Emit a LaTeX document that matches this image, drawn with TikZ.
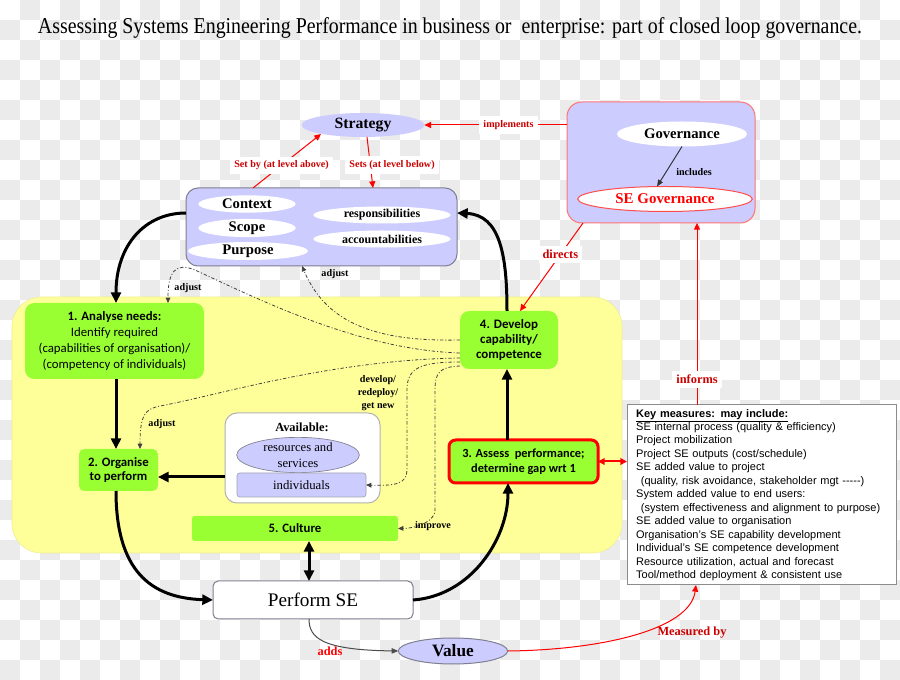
\documentclass[tikz,border=0pt]{standalone}
\usepackage{graphicx}
\usepackage{fontspec}
\setmainfont{Liberation Serif}
\newfontfamily\calib{Carlito}
\newfontfamily\arial{Liberation Sans}
\usetikzlibrary{shapes.geometric,arrows.meta,calc}
\definecolor{lav}{HTML}{CCCCFF}
\definecolor{grn}{HTML}{99FF33}
\definecolor{yel}{HTML}{FFFF99}
\definecolor{chk}{HTML}{EBEBEB}
\definecolor{lblred}{HTML}{CC0000}
\definecolor{bord}{HTML}{7F7F8F}
\newcommand\fsz[2]{\fontsize{#1pt}{#2pt}\selectfont}
\begin{document}
\begin{tikzpicture}[x=0.75pt,y=-0.75pt,
  boxnode/.style={rectangle, inner sep=0pt, outer sep=0pt},
  greenbox/.style={boxnode, fill=grn, rounded corners=6pt, align=center, font=\calib\bfseries\fsz{9.6}{11}},
  ell/.style={ellipse, inner sep=0pt, outer sep=0pt},
  thickarrow/.style={line width=2.25pt, -{Triangle[length=8pt,width=7.5pt]}},
  thinarrow/.style={draw=black!80, line width=0.75pt, -{Triangle[length=5pt,width=4pt]}},
  redthin/.style={draw=red, line width=0.75pt, -{Triangle[length=5pt,width=4.5pt]}},
  dd/.style={draw=black!75, line width=0.6pt, dash pattern=on 2.5pt off 1.5pt on 0.75pt off 1.5pt, -{Triangle[length=4pt,width=3.5pt]}},
  lbl/.style={font=\bfseries\fsz{7.6}{9}, inner sep=1pt},
  redlbl/.style={lbl, text=lblred, fill=white, inner sep=3pt},
  redlblb/.style={font=\bfseries\fsz{9.3}{11}, text=lblred, inner sep=3pt}
]
\useasboundingbox (0,0) rectangle (900,680);
% background checkerboard
\fill[white] (0,0) rectangle (900,680);
\foreach \i in {0,...,44}{\foreach \j in {0,...,33}{\ifodd\numexpr\i+\j\relax \fill[chk] (\i*20,\j*20) rectangle ++(20,20);\fi}}

% title
\node (title) at (450,28) {\resizebox{618pt}{\height}{\fsz{17}{20}Assessing Systems Engineering Performance in business or\ \ enterprise: part of closed loop governance.}};

% yellow region
\node[boxnode, minimum width=457.5pt, minimum height=192pt, fill=yel, draw=yel!85!gray, rounded corners=22pt] (yellow) at (317,425) {};

% strategy
\node[ell, fill=lav, minimum width=92pt, minimum height=18pt] (strategy) at (363,125) {\bfseries\fsz{11.8}{14}Strategy};

% governance box
\node[boxnode, minimum width=141pt, minimum height=90.75pt, fill=lav, draw=red!55, line width=0.75pt, rounded corners=11pt] (gov) at (661,162.5) {};
\node[ell, fill=white, minimum width=97.5pt, minimum height=18.75pt] (governance) at (682,134) {\bfseries\fsz{11}{13}Governance};
\node[ell, fill=white, draw=red!70, line width=0.75pt, minimum width=131pt, minimum height=18.75pt] (segov) at (665,199) {\bfseries\fsz{11.2}{13}\color{red}SE Governance};

% context box
\node[boxnode, minimum width=203.25pt, minimum height=58.5pt, fill=lav, draw=bord, line width=0.75pt, rounded corners=9pt] (ctx) at (321.5,227) {};
\node[ell, fill=white, minimum width=73pt, minimum height=13pt] (context) at (247,204) {\bfseries\fsz{11}{13}Context};
\node[ell, fill=white, minimum width=73pt, minimum height=13pt] (scope) at (247,228) {\bfseries\fsz{11}{13}Scope};
\node[ell, fill=white, minimum width=90pt, minimum height=13.5pt] (purpose) at (248,251) {\bfseries\fsz{11}{13}Purpose};
\node[ell, fill=white, minimum width=103pt, minimum height=12.75pt] (resp) at (382,215) {\bfseries\fsz{9}{11}responsibilities};
\node[ell, fill=white, minimum width=103pt, minimum height=12.75pt] (acc) at (382,239) {\bfseries\fsz{9}{11}accountabilities};

% process boxes
\node[greenbox, minimum width=134.25pt, minimum height=57pt, rounded corners=7pt, font=\calib\bfseries\fsz{9.6}{11.8}] (box1) at (114.5,341) {\textbf{1. Analyse needs:}\\\mdseries Identify required\\\mdseries (capabilities of organisation)/\\\mdseries (competency of individuals)};
\node[greenbox, minimum width=59.25pt, minimum height=31.5pt, rounded corners=4pt] (box2) at (118.5,470) {2. Organise\\to perform};
\node[greenbox, minimum width=111.75pt, minimum height=32.25pt, draw=red, line width=2.25pt, rounded corners=5pt, font=\calib\bfseries\fsz{9.3}{11.5}] (box3) at (523.5,461.5) {3. Assess\ \ performance;\\determine gap wrt 1};
\node[greenbox, minimum width=73.5pt, minimum height=43.5pt, rounded corners=7pt, font=\calib\bfseries\fsz{9.7}{11}] (box4) at (509,340) {4. Develop\\capability/\\competence};
\node[greenbox, minimum width=154.5pt, minimum height=18.75pt, rounded corners=2pt] (culture) at (295,528.5) {5. Culture};

% available
\node[boxnode, minimum width=116.25pt, minimum height=67.5pt, fill=white, draw=black!30, line width=0.75pt, rounded corners=9pt] (avail) at (302.5,458) {};
\node[font=\bfseries\fsz{9.3}{11}, inner sep=0pt] (availlbl) at (302,427) {Available:};
\node[ell, fill=lav, draw=bord, line width=0.5pt, minimum width=92pt, minimum height=23pt, align=center, font=\fsz{9.5}{12}] (res) at (298,455) {resources and\\services};
\node[boxnode, minimum width=96.75pt, minimum height=18pt, fill=lav, draw=bord!70, line width=0.5pt, rounded corners=2pt, font=\fsz{9.6}{11}] (ind) at (301.5,485) {individuals};

% perform and value
\node[boxnode, minimum width=150pt, minimum height=28.5pt, fill=white, draw=bord, line width=0.75pt, rounded corners=4pt, font=\fsz{14.4}{16}] (perform) at (313,600) {Perform SE};
\node[ell, fill=lav, draw=bord, line width=0.75pt, minimum width=82pt, minimum height=19.5pt] (value) at (453,651) {\bfseries\fsz{13}{15}Value};

% key measures
\node[boxnode, minimum width=201.75pt, minimum height=135pt, fill=white, draw=black!45, line width=0.75pt, text width=188pt, align=left, font=\arial\fsz{8.25}{10.1}] (key) at (761.5,495) {\underline{\textbf{Key measures: may include:}}\\
SE internal process (quality \& efficiency)\\
Project mobilization\\
Project SE outputs (cost/schedule)\\
SE added value to project\\
\hspace*{3.5pt}(quality, risk avoidance, stakeholder mgt -----)\\
System added value to end users:\\
\hspace*{3.5pt}(system effectiveness and alignment to purpose)\\
SE added value to organisation\\
Organisation’s SE capability development\\
Individual’s SE competence development\\
Resource utilization, actual and forecast\\
Tool/method deployment \& consistent use};

% red connectors
\draw[redthin] ($(gov.north west)+(0,23)$) -- (strategy.east) node[redlbl, pos=.41] (implbl) {implements};
\draw[redthin] ($(ctx.north west)+(67,0)$) -- ($(strategy.center)+(-42,9)$) node[redlbl, pos=.42] (setbylbl) {Set by (at level above)};
\draw[redthin] ($(strategy.center)+(4,12)$) -- ($(ctx.north west)+(187,0)$);
\node[redlbl] (setslbl) at (392,165) {Sets (at level below)};
\draw[thinarrow] (governance.south) -- ($(segov.north)+(-8,0)$);
\node[lbl] (inclbl) at (694,172) {includes};
\draw[redthin] ($(gov.south west)+(16,0)$) -- ($(box4.north)+(11,0)$) node[redlblb, fill=white, pos=.36] (dirlbl) {directs};
\draw[redthin] ($(key.north west)+(70,0)$) -- ($(gov.south west)+(130,0)$) node[redlblb, fill=white, pos=.14] (inflbl) {informs};
\draw[red, line width=1.5pt, {Triangle[length=5pt,width=5pt]}-{Triangle[length=5pt,width=5pt]}] (box3.east) -- (box3.east -| key.west);
\draw[redthin] (value.east) .. controls (600,650) and (690,630) .. ($(key.south west)+(69,0)$);
\node[redlblb] (measlbl) at (692,633) {Measured by};
\draw[thinarrow, draw=black!70] ($(perform.south)+(-4,0)$) .. controls (309,638) and (322,650) .. (value.west);
\node[redlblb, text=red] (addslbl) at (330,651) {adds};

% thick black loop
\draw[thickarrow] ($(ctx.west)+(0,-14)$) .. controls (145,213) and (116,245) .. ($(box1.north west)+(91,0)$);
\draw[thickarrow] ($(box1.south west)+(91,0)$) -- ($(box2.north west)+(37,0)$);
\draw[thickarrow] ($(box2.south west)+(37,0)$) .. controls (116,570) and (150,598) .. (perform.west);
\draw[thickarrow] (perform.east) .. controls (470,596) and (508,540) .. ($(box3.south west)+(59,0)$);
\draw[thickarrow] ($(box3.north west)+(58,0)$) -- ($(box4.south west)+(47,0)$);
\draw[thickarrow] ($(box4.north west)+(47,0)$) .. controls (507,255) and (500,215) .. ($(ctx.east)+(0,-14)$);
\draw[thickarrow] ($(avail.south west)+(0,-26)$) -- ($(box2.south east)+(0,-14)$);
\draw[line width=2.25pt, {Triangle[length=8pt,width=7.5pt]}-{Triangle[length=8pt,width=7.5pt]}] ($(culture.south west)+(117,0)$) -- ($(perform.north west)+(96,0)$);

% dash-dot connectors from 4
\draw[dd] ($(box4.north west)+(0,29)$) .. controls (370,342) and (325,320) .. ($(ctx.south west)+(116,0)$);
\draw[dd] ($(box4.north west)+(0,42)$) .. controls (360,350) and (260,300) .. (195,270) .. controls (175,262) and (168,272) .. ($(box1.north west)+(143,0)$);
\draw[dd] ($(box4.north west)+(0,47)$) .. controls (330,360) and (220,395) .. (160,406) .. controls (145,409) and (140,415) .. ($(box2.north west)+(61,0)$);
\draw[dd] ($(box4.north west)+(0,51)$) .. controls (420,362) and (407,368) .. (407,390) -- (407,470) .. controls (407,484) and (395,486) .. (ind.east);
\draw[dd] ($(box4.north west)+(0,55)$) .. controls (440,367) and (435,372) .. (435,390) -- (435,510) .. controls (435,520) and (420,528) .. (culture.east);
\node[lbl] (adj1) at (335,274) {adjust};
\node[lbl] (adj2) at (188,288) {adjust};
\node[lbl] (adj3) at (162,424) {adjust};
\node[lbl, align=center, font=\bfseries\fsz{7.6}{9.8}] (devlbl) at (378,393) {develop/\\redeploy/\\get new};
\node[lbl] (implbl2) at (433,526) {improve};
\end{tikzpicture}
\end{document}
